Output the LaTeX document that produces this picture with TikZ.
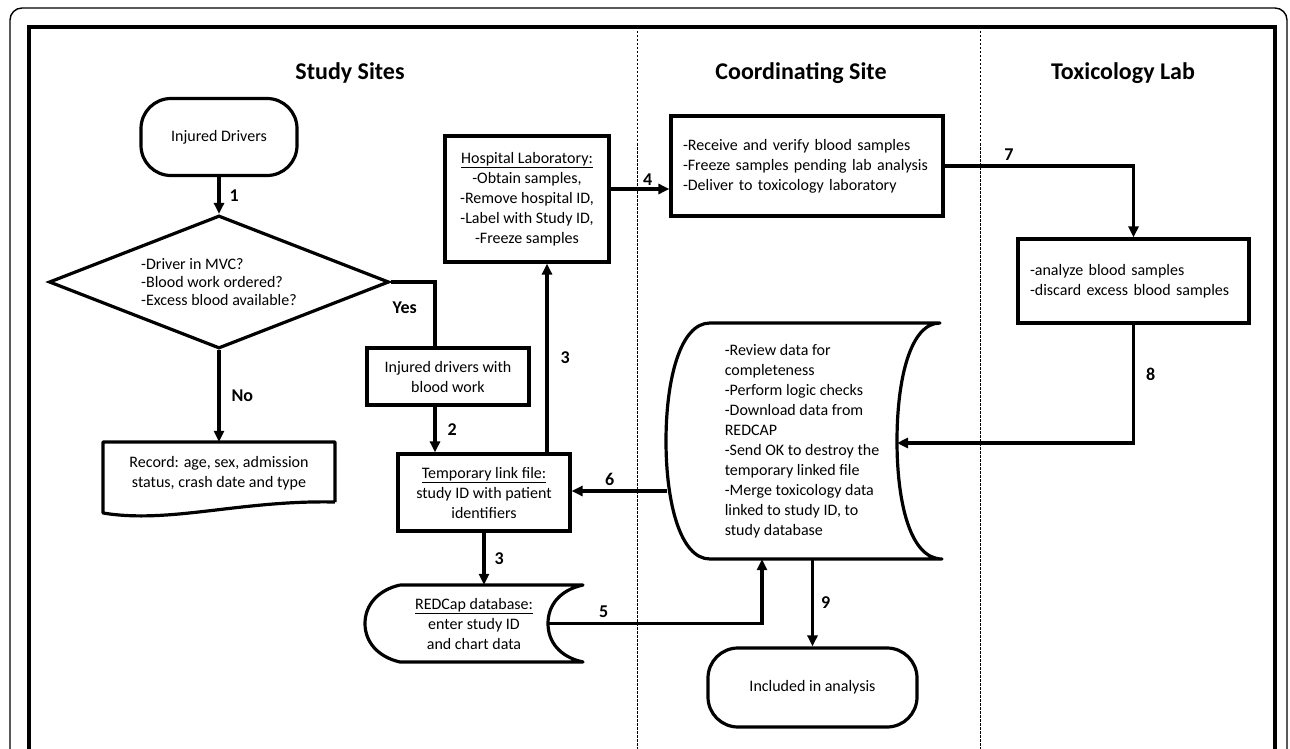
\documentclass[tikz,border=0pt]{standalone}
\usepackage{fontspec}
\setmainfont{Carlito}
\usetikzlibrary{arrows.meta,shapes.geometric}

\tikzset{
  box/.style={draw, line width=3.2pt, align=center, inner sep=0pt, font=\fontsize{16}{20}\selectfont},
  plain/.style={align=center, inner sep=0pt, font=\fontsize{16}{20}\selectfont},
  termbox/.style={box, rounded corners=30pt},
  flow/.style={line width=3.2pt, -{Triangle[length=11pt,width=10pt]}},
  link/.style={line width=3.2pt},
  shape line/.style={line width=3.2pt, line join=round},
  numlabel/.style={font=\fontsize{18}{20}\selectfont\bfseries, inner sep=1pt},
  lanehead/.style={font=\fontsize{24}{28}\selectfont\bfseries},
  lane/.style={line width=0.9pt, dash pattern=on 2.5pt off 1.5pt}
}

\begin{document}
\begin{tikzpicture}[x=1pt, y=-1pt]
  \useasboundingbox (0,0) rectangle (1290,749);

  % frames and lanes
  \draw[line width=1.4pt, rounded corners=12pt] (10,760) -- (10,8) -- (1287,8) -- (1287,760);
  \draw[line width=3.2pt] (29,760) -- (29,27) -- (1275,27) -- (1275,760);
  \draw[lane] (637,27) -- (637,760);
  \draw[lane] (980,27) -- (980,760);

  \node[lanehead] (sites) at (350,73) {Study Sites};
  \node[lanehead] (coordsite) at (801,73) {Coordinating Site};
  \node[lanehead] (toxlab) at (1123,73) {Toxicology Lab};

  % study sites
  \node[termbox, minimum width=156pt, minimum height=77pt] (drivers) at (219,137) {Injured Drivers};
  \node[diamond, draw, line width=3.2pt, aspect=2.5, inner sep=0pt, minimum width=340pt, minimum height=133pt,
        align=left, font=\fontsize{16}{18}\selectfont] (chk) at (219,282)
        {-Driver in MVC?\\-Blood work ordered?\\-Excess blood available?};
  \node[plain, minimum width=232pt, minimum height=62pt] (rec) at (219,473)
        {Record: age, sex, admission\\status, crash date and type};
  \draw[shape line] (335,502) -- (335,442) -- (103,442) -- (103,513) .. controls (170,524) and (240,500) .. (335,502);

  \node[box, minimum width=162pt, minimum height=57pt] (blood) at (448,376.5) {Injured drivers with\\blood work};
  \node[box, minimum width=172pt, minimum height=77pt] (tmplink) at (484,492.5)
        {\underline{Temporary link file:}\\study ID with patient\\identifiers};
  \node[box, minimum width=164pt, minimum height=126pt] (hosplab) at (527,199)
        {\underline{Hospital Laboratory:}\\-Obtain samples,\\-Remove hospital ID,\\-Label with Study ID,\\-Freeze samples};
  \node[plain, minimum width=148pt, minimum height=77pt] (redcap) at (474,623.5)
        {\underline{REDCap database:}\\enter study ID\\and chart data};
  \draw[shape line] (400,585) -- (583,585) .. controls (560,590) and (548,605) .. (548,623.5)
        .. controls (548,642) and (560,657) .. (583,662) -- (400,662)
        .. controls (378,657) and (365,642) .. (365,623.5) .. controls (365,605) and (378,590) .. (400,585);

  % coordinating site
  \node[box, minimum width=272pt, minimum height=100pt, text width=248pt, align=left] (coord) at (807,166)
        {-Receive and verify blood samples\\-Freeze samples pending lab analysis\\-Deliver to toxicology laboratory};
  \node[plain, align=left, minimum width=274pt, minimum height=236pt] (review) at (802,441)
        {-Review data for\\completeness\\-Perform logic checks\\-Download data from\\REDCAP\\-Send OK to destroy the\\temporary linked file\\-Merge toxicology data\\linked to study ID, to\\study database};
  \draw[shape line] (710,323) -- (940,323) .. controls (910,323) and (897,380) .. (897,441)
        .. controls (897,502) and (910,559) .. (942,559) -- (710,559)
        .. controls (680,559) and (666,502) .. (666,441) .. controls (666,380) and (680,323) .. (710,323);
  \coordinate (revin) at (897,443);
  \coordinate (revout) at (667,491);
  \node[termbox, minimum width=209pt, minimum height=79pt] (incl) at (812.5,687.5) {Included in analysis};

  % toxicology lab
  \node[box, minimum width=231pt, minimum height=84pt, text width=207pt, align=left] (tox) at (1133.5,281)
        {-analyze blood samples\\-discard excess blood samples};

  % connectors
  \draw[flow] (drivers.south) -- (chk.north) node[pos=.5, right=8pt, numlabel] {1};
  \draw[flow] (chk.south) -- (rec.north) node[pos=.5, right=10pt, numlabel] {No};
  \draw[link] (chk.east) -| ([xshift=-13pt]blood.north) node[pos=.16, below=17pt, numlabel] {Yes};
  \draw[flow] ([xshift=-13pt]blood.south) -- ([xshift=-13pt]blood.south |- tmplink.north)
        node[pos=.5, right=10pt, numlabel] {2};
  \draw[flow] ([xshift=20pt]hosplab.south |- tmplink.north) -- ([xshift=20pt]hosplab.south)
        node[pos=.5, right=11pt, numlabel] {3};
  \draw[flow] (tmplink.south) -- (tmplink.south |- redcap.north) node[pos=.5, right=8pt, numlabel] {3};
  \draw[flow] ([yshift=10pt]hosplab.east) -- ([yshift=10pt]hosplab.east -| coord.west)
        node[pos=.63, above=1pt, numlabel] {4};
  \draw[flow] (redcap.east) -| ([xshift=-40pt]review.south) node[pos=.13, above=3pt, numlabel] {5};
  \draw[flow] (revout) -- (revout -| tmplink.east) node[pos=.6, above=3pt, numlabel] {6};
  \draw[flow] (coord.east) -| (tox.north) node[pos=.17, above=3pt, numlabel] {7};
  \draw[flow] (tox.south) |- (revin) node[pos=.21, right=10pt, numlabel] {8};
  \draw[flow] (incl.north |- review.south) -- (incl.north) node[pos=.5, right=6pt, numlabel] {9};

\end{tikzpicture}
\end{document}
